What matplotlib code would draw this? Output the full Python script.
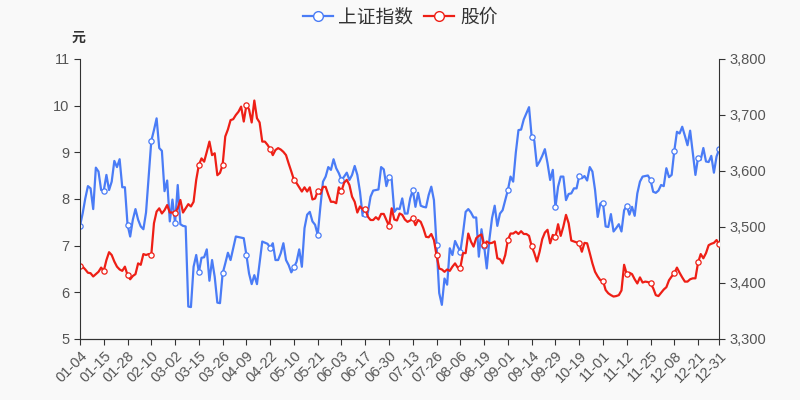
import matplotlib
matplotlib.use('Agg')
import matplotlib.pyplot as plt
from matplotlib.lines import Line2D
from matplotlib.ticker import FuncFormatter

plt.rcParams['font.family'] = ['Liberation Sans', 'Noto Sans CJK SC', 'DejaVu Sans']

# x tick labels, one every 9 trading days plus the last day
tick_labels = ['01-04', '01-15', '01-28', '02-10', '03-02', '03-15', '03-26',
               '04-09', '04-22', '05-10', '05-21', '06-03', '06-17', '06-30',
               '07-13', '07-26', '08-06', '08-19', '09-01', '09-14', '09-29',
               '10-19', '11-01', '11-12', '11-25', '12-08', '12-21', '12-31']

# stock price (元), left axis
price = [
    6.57, 6.55, 6.49, 6.42, 6.41, 6.34, 6.39, 6.44, 6.53, 6.46,
    6.69, 6.86, 6.80, 6.66, 6.55, 6.49, 6.46, 6.55, 6.37, 6.28,
    6.35, 6.39, 6.62, 6.59, 6.82, 6.80, 6.82, 6.81, 7.48, 7.73,
    7.80, 7.69, 7.76, 7.87, 7.71, 7.71, 7.71, 7.80, 7.98, 7.71,
    7.80, 7.89, 7.84, 7.94, 8.41, 8.73, 8.87, 8.80, 9.01, 9.23,
    8.94, 8.98, 8.51, 8.56, 8.73, 9.34, 9.49, 9.69, 9.71, 9.80,
    9.87, 9.98, 9.66, 10.01, 9.92, 9.64, 10.11, 9.73, 9.64, 9.23,
    9.23, 9.16, 9.07, 8.94, 9.05, 9.09, 9.06, 9.01, 8.94, 8.76,
    8.59, 8.41, 8.34, 8.25, 8.16, 8.25, 8.16, 8.25, 7.99, 8.01,
    8.17, 8.11, 8.26, 8.26, 8.09, 7.94, 7.94, 7.91, 8.25, 8.17,
    8.35, 8.41, 8.30, 8.05, 7.94, 7.71, 7.84, 7.78, 7.78, 7.62,
    7.55, 7.55, 7.61, 7.56, 7.68, 7.68, 7.55, 7.42, 7.80, 7.56,
    7.54, 7.69, 7.66, 7.56, 7.51, 7.54, 7.59, 7.44, 7.55, 7.51,
    7.37, 7.19, 7.18, 7.25, 7.12, 6.79, 6.51, 6.49, 6.44, 6.49,
    6.46, 6.55, 6.62, 6.53, 6.53, 6.84, 6.84, 7.26, 7.09, 6.98,
    7.16, 7.21, 7.24, 7.01, 7.09, 7.05, 7.06, 7.09, 6.73, 6.71,
    6.62, 6.80, 7.12, 7.26, 7.26, 7.30, 7.25, 7.31, 7.25, 7.25,
    7.21, 6.99, 6.84, 6.66, 6.87, 7.14, 7.28, 7.34, 7.05, 7.23,
    7.19, 7.46, 7.21, 7.41, 7.66, 7.48, 7.11, 7.09, 7.07, 7.05,
    6.87, 7.06, 7.05, 6.84, 6.62, 6.44, 6.34, 6.26, 6.25, 6.05,
    5.98, 5.94, 5.91, 5.92, 5.94, 6.04, 6.59, 6.39, 6.42, 6.39,
    6.28, 6.19, 6.32, 6.21, 6.23, 6.22, 6.19, 6.09, 5.94, 5.92,
    5.99, 6.06, 6.11, 6.26, 6.34, 6.41, 6.53, 6.42, 6.32, 6.23,
    6.23, 6.28, 6.30, 6.30, 6.64, 6.82, 6.73, 6.84, 7.01, 7.04,
    7.06, 7.12, 7.03,
]

# Shanghai composite index, right axis
index_sh = [
    3502, 3524, 3551, 3573, 3569, 3532, 3606, 3599, 3566, 3565,
    3593, 3566, 3581, 3618, 3607, 3621, 3571, 3571, 3504, 3483,
    3513, 3532, 3513, 3501, 3496, 3526, 3590, 3654, 3673, 3694,
    3641, 3636, 3564, 3583, 3510, 3549, 3507, 3575, 3505, 3502,
    3501, 3358, 3357, 3429, 3450, 3419, 3445, 3446, 3460, 3404,
    3441, 3411, 3365, 3364, 3417, 3435, 3454, 3441, 3462, 3483,
    3482, 3481, 3480, 3450, 3417, 3398, 3414, 3398, 3436, 3474,
    3472, 3470, 3463, 3471, 3441, 3441, 3453, 3471, 3441, 3432,
    3419, 3428, 3438, 3460, 3429, 3498, 3522, 3527, 3510, 3504,
    3486, 3536, 3581, 3590, 3607, 3602, 3621, 3605, 3596, 3584,
    3590, 3597, 3584, 3593, 3609, 3593, 3563, 3520, 3524, 3526,
    3554, 3565, 3566, 3567, 3607, 3603, 3573, 3590, 3585, 3527,
    3533, 3532, 3551, 3524, 3524, 3551, 3566, 3536, 3561, 3538,
    3536, 3535, 3557, 3572, 3548, 3467, 3382, 3361, 3408, 3397,
    3462, 3450, 3475, 3465, 3456, 3489, 3527, 3532, 3526, 3517,
    3517, 3447, 3496, 3466, 3426, 3478, 3516, 3538, 3502, 3524,
    3530, 3548, 3566, 3590, 3581, 3633, 3673, 3674, 3692, 3703,
    3714, 3661, 3654, 3609, 3617, 3627, 3639, 3614, 3584, 3602,
    3535, 3572, 3590, 3590, 3548, 3559, 3560, 3569, 3569, 3591,
    3587, 3591, 3583, 3607, 3599, 3566, 3518, 3542, 3543, 3501,
    3500, 3523, 3492, 3498, 3505, 3492, 3530, 3538, 3522, 3536,
    3520, 3560, 3581, 3590, 3591, 3592, 3584, 3563, 3561, 3565,
    3575, 3573, 3605, 3589, 3593, 3636, 3670, 3667, 3679, 3663,
    3646, 3672, 3633, 3593, 3624, 3620, 3641, 3617, 3616, 3627,
    3597, 3626, 3639,
]

BG = '#f9f9f9'
BLUE = '#4a7cf6'
RED = '#ee1f16'
AXIS = '#333333'

n = len(price)
x = list(range(n))
tick_pos = list(range(0, n, 9)) + [n - 1]
marks = tick_pos

fig = plt.figure(figsize=(8, 4), dpi=100, facecolor=BG)
ax = fig.add_axes([0.1, 0.1525, 0.799, 0.70])
ax2 = ax.twinx()
ax.set_zorder(ax2.get_zorder() + 1)
ax.patch.set_visible(False)
ax2.set_facecolor(BG)

ax2.plot(x, index_sh, color=BLUE, lw=1.6, marker='o', markevery=marks,
         markersize=3.8, markerfacecolor='white', markeredgecolor=BLUE,
         markeredgewidth=0.9)
ax.plot(x, price, color=RED, lw=1.6, marker='o', markevery=marks,
        markersize=3.8, markerfacecolor='white', markeredgecolor=RED,
        markeredgewidth=0.9)

ax.set_xlim(0, n - 1)
ax.set_ylim(5, 11)
ax2.set_ylim(3300, 3800)
ax.set_yticks(range(5, 12))
ax2.set_yticks(range(3300, 3801, 100))
ax2.yaxis.set_major_formatter(FuncFormatter(lambda v, p: f'{int(v):,}'))

ax.set_xticks(tick_pos)
ax.set_xticklabels(tick_labels, rotation=45, ha='right', rotation_mode='anchor')

for a in (ax, ax2):
    a.spines['top'].set_visible(False)
    a.spines['left'].set_color(AXIS)
    a.spines['right'].set_color(AXIS)
    a.spines['bottom'].set_color(AXIS)
    a.tick_params(colors=AXIS, labelcolor='#555555', labelsize=10.5, length=4, width=0.8)
ax.spines['right'].set_visible(False)
ax2.spines['left'].set_visible(False)
ax.tick_params(axis='x', pad=3)

fig.text(0.098, 0.905, '元', ha='center', va='center', fontsize=10,
         fontweight='bold', color=AXIS, family=['Noto Sans CJK SC'])

handles = [
    Line2D([], [], color=BLUE, lw=1.6, marker='o', markersize=7,
           markerfacecolor='white', markeredgecolor=BLUE),
    Line2D([], [], color=RED, lw=1.6, marker='o', markersize=7,
           markerfacecolor='white', markeredgecolor=RED),
]
leg = fig.legend(handles, ['上证指数', '股价'], loc='upper center',
                 bbox_to_anchor=(0.5, 1.025), ncol=2, frameon=False,
                 handlelength=1.6, handletextpad=0.3, columnspacing=0.6,
                 prop={'family': ['Noto Sans CJK SC'], 'size': 13.5})
for t in leg.get_texts():
    t.set_color(AXIS)

fig.savefig('out.png', dpi=100, facecolor=BG)
